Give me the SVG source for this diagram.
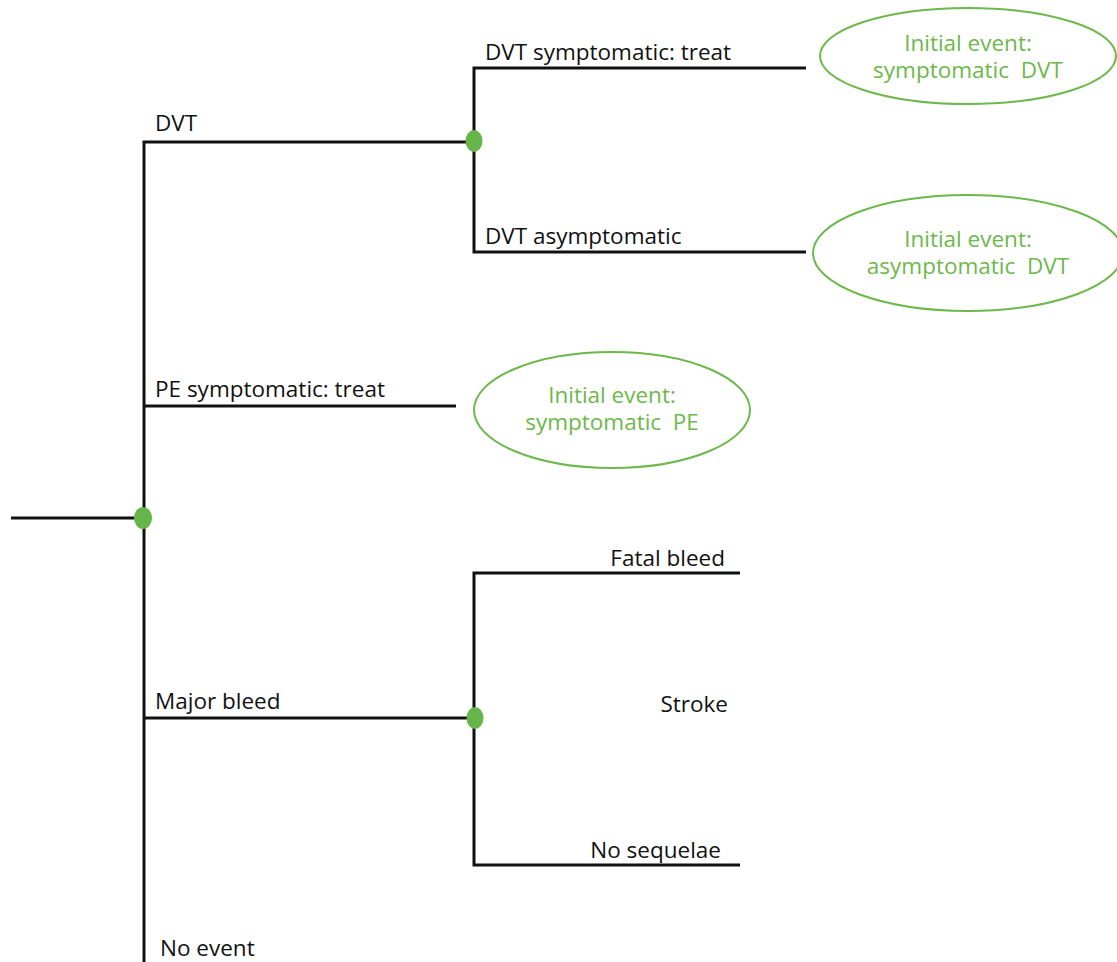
<svg xmlns="http://www.w3.org/2000/svg" width="1117" height="962" viewBox="0 0 1117 962">
  <style>
    .edge { stroke: #111; stroke-width: 3; fill: none; }
    .chance { fill: #66b54a; }
    .state { fill: none; stroke: #6cb84a; stroke-width: 2; }
    .lbl { font-family: "Open Sans", "Liberation Sans", sans-serif; font-size: 22.5px; fill: #111; }
    .slbl { font-family: "Open Sans", "Liberation Sans", sans-serif; font-size: 22.5px; fill: #6cb84a; text-anchor: middle; white-space: pre; }
  </style>
  <rect width="1117" height="962" fill="#fff"/>

  <!-- connectors -->
  <g id="connectors">
    <path class="edge" d="M11 518 H144"/>
    <path class="edge" d="M144 962 V142 H474"/>
    <path class="edge" d="M806 68 H474 V252 H806"/>
    <path class="edge" d="M144 406 H456"/>
    <path class="edge" d="M144 718 H474"/>
    <path class="edge" d="M740 573 H474 V865 H740"/>
  </g>

  <!-- branch labels -->
  <g id="labels">
    <text class="lbl" x="155" y="131">DVT</text>
    <text class="lbl" x="485" y="60">DVT symptomatic: treat</text>
    <text class="lbl" x="485" y="244">DVT asymptomatic</text>
    <text class="lbl" x="155" y="397">PE symptomatic: treat</text>
    <text class="lbl" x="155" y="709">Major bleed</text>
    <text class="lbl" x="725" y="566" text-anchor="end">Fatal bleed</text>
    <text class="lbl" x="728" y="712" text-anchor="end">Stroke</text>
    <text class="lbl" x="721" y="858" text-anchor="end">No sequelae</text>
    <text class="lbl" x="160" y="956">No event</text>
  </g>

  <!-- chance nodes -->
  <g id="root-node"><ellipse class="chance" cx="143" cy="518" rx="9" ry="11"/></g>
  <g id="dvt-node"><ellipse class="chance" cx="474" cy="141" rx="8.5" ry="11"/></g>
  <g id="bleed-node"><ellipse class="chance" cx="475" cy="718" rx="8.5" ry="11"/></g>

  <!-- Markov states -->
  <g id="state-symptomatic-dvt">
    <ellipse class="state" cx="968" cy="56" rx="148" ry="48"/>
    <text class="slbl" x="968" y="51">Initial event:</text>
    <text class="slbl" x="968" y="78">symptomatic  DVT</text>
  </g>
  <g id="state-asymptomatic-dvt">
    <ellipse class="state" cx="968" cy="253" rx="155" ry="58"/>
    <text class="slbl" x="968" y="247">Initial event:</text>
    <text class="slbl" x="968" y="274">asymptomatic  DVT</text>
  </g>
  <g id="state-symptomatic-pe">
    <ellipse class="state" cx="612" cy="410" rx="138" ry="58"/>
    <text class="slbl" x="612" y="403">Initial event:</text>
    <text class="slbl" x="612" y="430">symptomatic  PE</text>
  </g>
</svg>
